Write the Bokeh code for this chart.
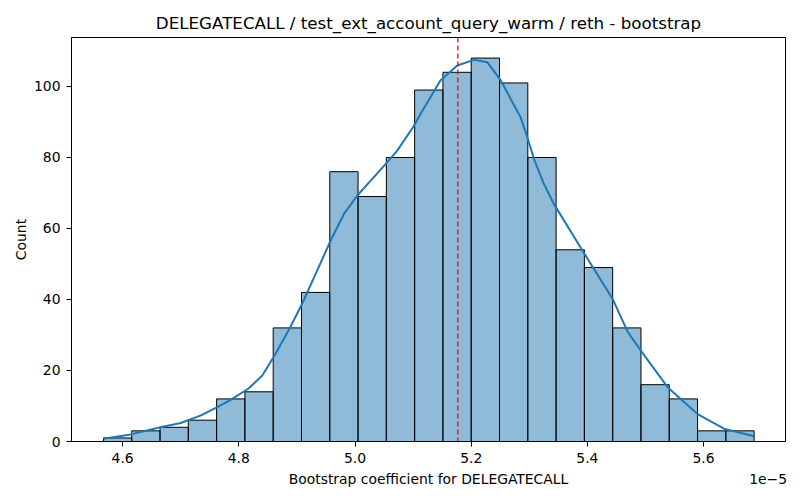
import numpy as np
from bokeh.plotting import figure
from bokeh.models import Range1d, FixedTicker, Span, ColumnDataSource, LinearAxis
from bokeh.embed import file_html
from bokeh.resources import INLINE

# ---- data (x in units of 1e-5) ----
bin_lo = 4.567
bin_hi = 5.687
counts = [1, 3, 4, 6, 12, 14, 32, 42, 76, 69, 80, 99, 104, 108, 101, 80, 54, 49, 32, 16, 12, 3, 3]

kde_x = [4.567, 4.614, 4.665, 4.700, 4.734, 4.763, 4.786, 4.8174, 4.8404, 4.8633, 4.8862,
         4.909, 4.935, 4.958, 4.981, 5.004, 5.027, 5.053, 5.073, 5.101, 5.113, 5.147,
         5.176, 5.205, 5.228, 5.251, 5.268, 5.285, 5.296, 5.308, 5.325, 5.342, 5.388,
         5.443, 5.469, 5.492, 5.538, 5.589, 5.635, 5.687]
kde_y = [0.8, 2.0, 4.0, 5.2, 7.3, 9.7, 11.7, 15.0, 18.6, 24.7, 31.5,
         38.8, 48.2, 56.6, 64.1, 69.3, 73.5, 78.2, 82.0, 88.8, 92.3, 101.7,
         105.9, 107.5, 106.8, 101.7, 96.5, 91.3, 86.0, 79.6, 72.6, 67.0, 54.7,
         40.3, 31.0, 25.6, 15.3, 7.8, 3.6, 1.5]

mean_value = 5.177

x_ticks = [4.6, 4.8, 5.0, 5.2, 5.4, 5.6]
x_tick_labels = ["4.6", "4.8", "5.0", "5.2", "5.4", "5.6"]
y_ticks = [0, 20, 40, 60, 80, 100]

title = "DELEGATECALL / test_ext_account_query_warm / reth - bootstrap"
x_label = "Bootstrap coefficient for DELEGATECALL"
y_label = "Count"
offset_text = "1e\u22125"

# ---- figure ----
FONT = "DejaVu Sans"
X_MIN, X_MAX = 4.512, 5.741
p = figure(width=792, height=492, output_backend="svg", toolbar_location=None,
           x_range=Range1d(X_MIN, X_MAX), y_range=Range1d(0, 113.8),
           min_border_left=71, min_border_right=7, min_border_top=37, min_border_bottom=51,
           title=title)

edges = np.linspace(bin_lo, bin_hi, len(counts) + 1)
src = ColumnDataSource(dict(left=edges[:-1], right=edges[1:], top=counts))
p.quad(left="left", right="right", top="top", bottom=0, source=src,
       fill_color="#1f77b4", fill_alpha=0.5, line_color="black", line_width=1)

p.line(kde_x, kde_y, line_color="#1f77b4", line_width=2)

p.add_layout(Span(location=mean_value, dimension="height", line_color="red",
                  line_dash="5 3", line_width=1.3))

p.title.text_font = FONT
p.title.text_font_size = "16.7px"
p.title.text_font_style = "normal"
p.title.align = "center"
p.title.text_color = "black"

p.xgrid.visible = False
p.ygrid.visible = False
p.outline_line_color = "black"
p.outline_line_width = 1
p.background_fill_color = "white"
p.border_fill_color = "white"

for ax in (p.xaxis[0], p.yaxis[0]):
    ax.axis_line_color = "black"
    ax.major_tick_line_color = "black"
    ax.major_tick_out = 5
    ax.major_tick_in = 0
    ax.minor_tick_line_color = None
    ax.major_label_text_font = FONT
    ax.major_label_text_font_size = "13.9px"
    ax.major_label_text_color = "black"
    ax.major_label_standoff = 6
    ax.axis_label_text_font = FONT
    ax.axis_label_text_font_size = "13.9px"
    ax.axis_label_text_font_style = "normal"
    ax.axis_label_text_color = "black"

p.xaxis[0].ticker = FixedTicker(ticks=x_ticks)
p.xaxis[0].major_label_overrides = {t: l for t, l in zip(x_ticks, x_tick_labels)}
p.yaxis[0].ticker = FixedTicker(ticks=y_ticks)
p.yaxis[0].axis_label = y_label
p.yaxis[0].axis_label_standoff = 2

# second row below the axis: x label (centred on the frame) and the offset text (right edge)
x_mid = (X_MIN + X_MAX) / 2
off_pos = X_MAX - 0.030
label_axis = LinearAxis(ticker=FixedTicker(ticks=[x_mid, off_pos]),
                        major_label_overrides={x_mid: x_label, off_pos: offset_text})
label_axis.axis_line_color = None
label_axis.major_tick_line_color = None
label_axis.major_tick_out = 0
label_axis.major_tick_in = 0
label_axis.minor_tick_line_color = None
label_axis.major_label_standoff = 5
label_axis.major_label_text_font = FONT
label_axis.major_label_text_font_size = "13.9px"
label_axis.major_label_text_color = "black"
p.add_layout(label_axis, "below")

open("out.html", "w").write(file_html(p, INLINE))
